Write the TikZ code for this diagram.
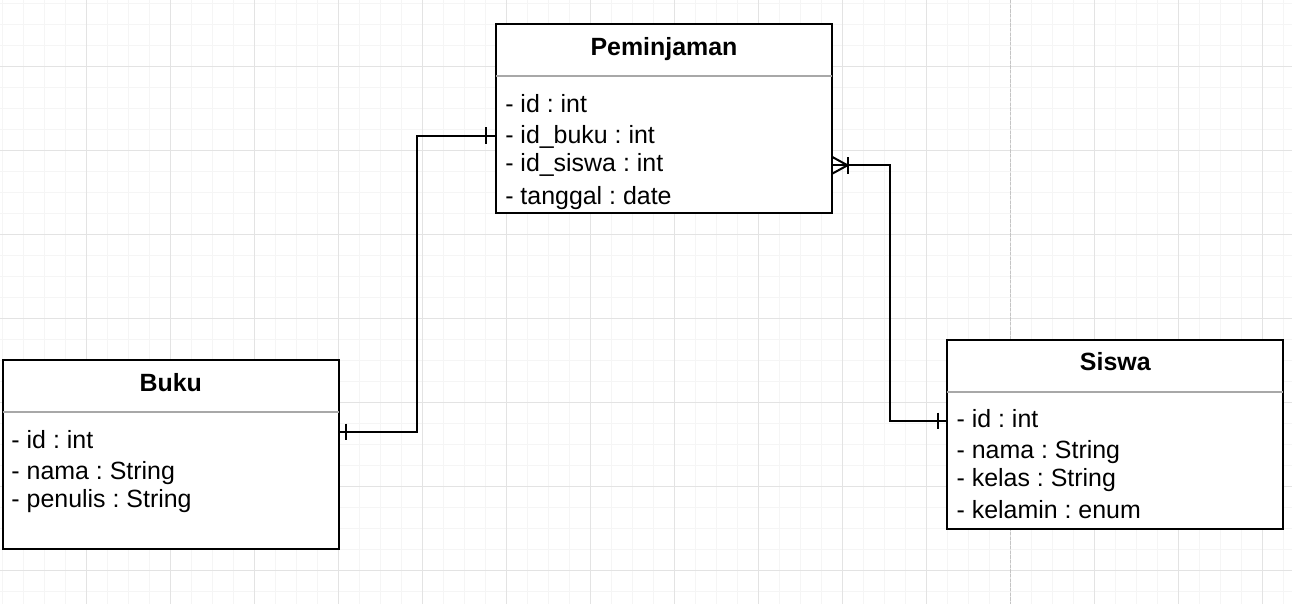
\documentclass[tikz,border=0pt]{standalone}
\usepackage{fontspec}
\setmainfont{Liberation Sans}
\usetikzlibrary{calc}
\definecolor{gridminor}{HTML}{F5F5F5}
\definecolor{gridmajor}{HTML}{E3E3E3}
\definecolor{sepgray}{HTML}{A8A8A8}
\definecolor{pagebreak}{HTML}{C4C4C4}
\frenchspacing
\begin{document}
\frenchspacing
\begin{tikzpicture}[x=0.75pt,y=-0.75pt,
  minorline/.style={draw=gridminor, line width=0.75pt},
  majorline/.style={draw=gridmajor, line width=0.75pt},
  entity/.style={draw=black, line width=1.5pt, fill=white, minimum width=252pt, minimum height=141.75pt, inner sep=0pt, outer sep=0pt, anchor=north west},
  title/.style={anchor=base, inner sep=0pt, font=\fontsize{18.7}{22}\selectfont\bfseries\frenchspacing},
  attr/.style={anchor=base west, inner sep=0pt, font=\fontsize{18.7}{22}\selectfont\frenchspacing},
  sep/.style={draw=sepgray, line width=1.5pt},
  conn/.style={draw=black, line width=1.5pt, line join=miter},
]
\useasboundingbox (0,0) rectangle (1292,604);
\fill[white] (0,0) rectangle (1292,604);
% grid
\foreach \i in {0,...,61} {\draw[minorline] ({2+21.005*\i},0) -- ({2+21.005*\i},604);}
\foreach \j in {0,...,28} {\draw[minorline] (0,{3+21.01*\j}) -- (1292,{3+21.01*\j});}
\foreach \i in {0,...,14} {\draw[majorline] ({86+84.02*\i},0) -- ({86+84.02*\i},604);}
\foreach \j in {0,...,6} {\draw[majorline] (0,{66+84.05*\j}) -- (1292,{66+84.05*\j});}
\draw[draw=pagebreak, line width=0.75pt, dash pattern=on 2.5pt off 1pt] (1010.5,0) -- (1010.5,604);

% entities
\node[entity] (pem) at (496,24) {};
\node[entity] (buku) at (2.7,360.3) {};
\node[entity] (sis) at (947.3,340) {};

\draw[sep] ($(pem.north west)+(0,51.5)$) -- ($(pem.north east)+(0,51.5)$);
\draw[sep] ($(buku.north west)+(0,51.5)$) -- ($(buku.north east)+(0,51.5)$);
\draw[sep] ($(sis.north west)+(0,51.5)$) -- ($(sis.north east)+(0,51.5)$);

% Peminjaman
\node[title] (pemT) at ($(pem.north)+(0,31.5)$) {Peminjaman};
\node[attr] (pem1) at ($(pem.north west)+(9,88.5)$) {- id : int};
\node[attr] (pem2) at ($(pem.north west)+(9,119.3)$) {- id\_buku : int};
\node[attr] (pem3) at ($(pem.north west)+(9,147.7)$) {- id\_siswa : int};
\node[attr] (pem4) at ($(pem.north west)+(9,180)$) {- tanggal : date};

% Buku
\node[title] (bukuT) at ($(buku.north)+(0,30.8)$) {Buku};
\node[attr] (buku1) at ($(buku.north west)+(8.5,88)$) {- id : int};
\node[attr] (buku2) at ($(buku.north west)+(8.5,118.7)$) {- nama : String};
\node[attr] (buku3) at ($(buku.north west)+(8.5,147.4)$) {- penulis : String};

% Siswa
\node[title] (sisT) at ($(sis.north)+(0,30.2)$) {Siswa};
\node[attr] (sis1) at ($(sis.north west)+(9,87.3)$) {- id : int};
\node[attr] (sis2) at ($(sis.north west)+(9,118.3)$) {- nama : String};
\node[attr] (sis3) at ($(sis.north west)+(9,146.7)$) {- kelas : String};
\node[attr] (sis4) at ($(sis.north west)+(9,178.3)$) {- kelamin : enum};

% connector endpoints
\coordinate (bA) at ($(buku.north east)+(0,71.7)$);
\coordinate (pA) at ($(pem.north west)+(0,111.5)$);
\coordinate (pB) at ($(pem.north east)+(0,141.3)$);
\coordinate (sA) at ($(sis.north west)+(0,81)$);

% Buku -- Peminjaman (one to one)
\draw[conn] (bA) -| ($(bA)!0.5!(pA)$) |- (pA);
\draw[conn] ($(bA)+(7.3,-8.3)$) -- ($(bA)+(7.3,8)$);
\draw[conn] ($(pA)+(-10,-8.3)$) -- ($(pA)+(-10,8.3)$);

% Peminjaman -- Siswa (many to one)
\draw[conn] (pB) -| ($(pB)!0.5!(sA)$) |- (sA);
\draw[conn] ($(pB)+(0,-8.5)$) -- ($(pB)+(15.5,0)$) -- ($(pB)+(0,8.5)$);
\draw[conn] ($(pB)+(16,-8.3)$) -- ($(pB)+(16,8.5)$);
\draw[conn] ($(sA)+(-9.6,-8.3)$) -- ($(sA)+(-9.6,8)$);
\end{tikzpicture}
\end{document}
